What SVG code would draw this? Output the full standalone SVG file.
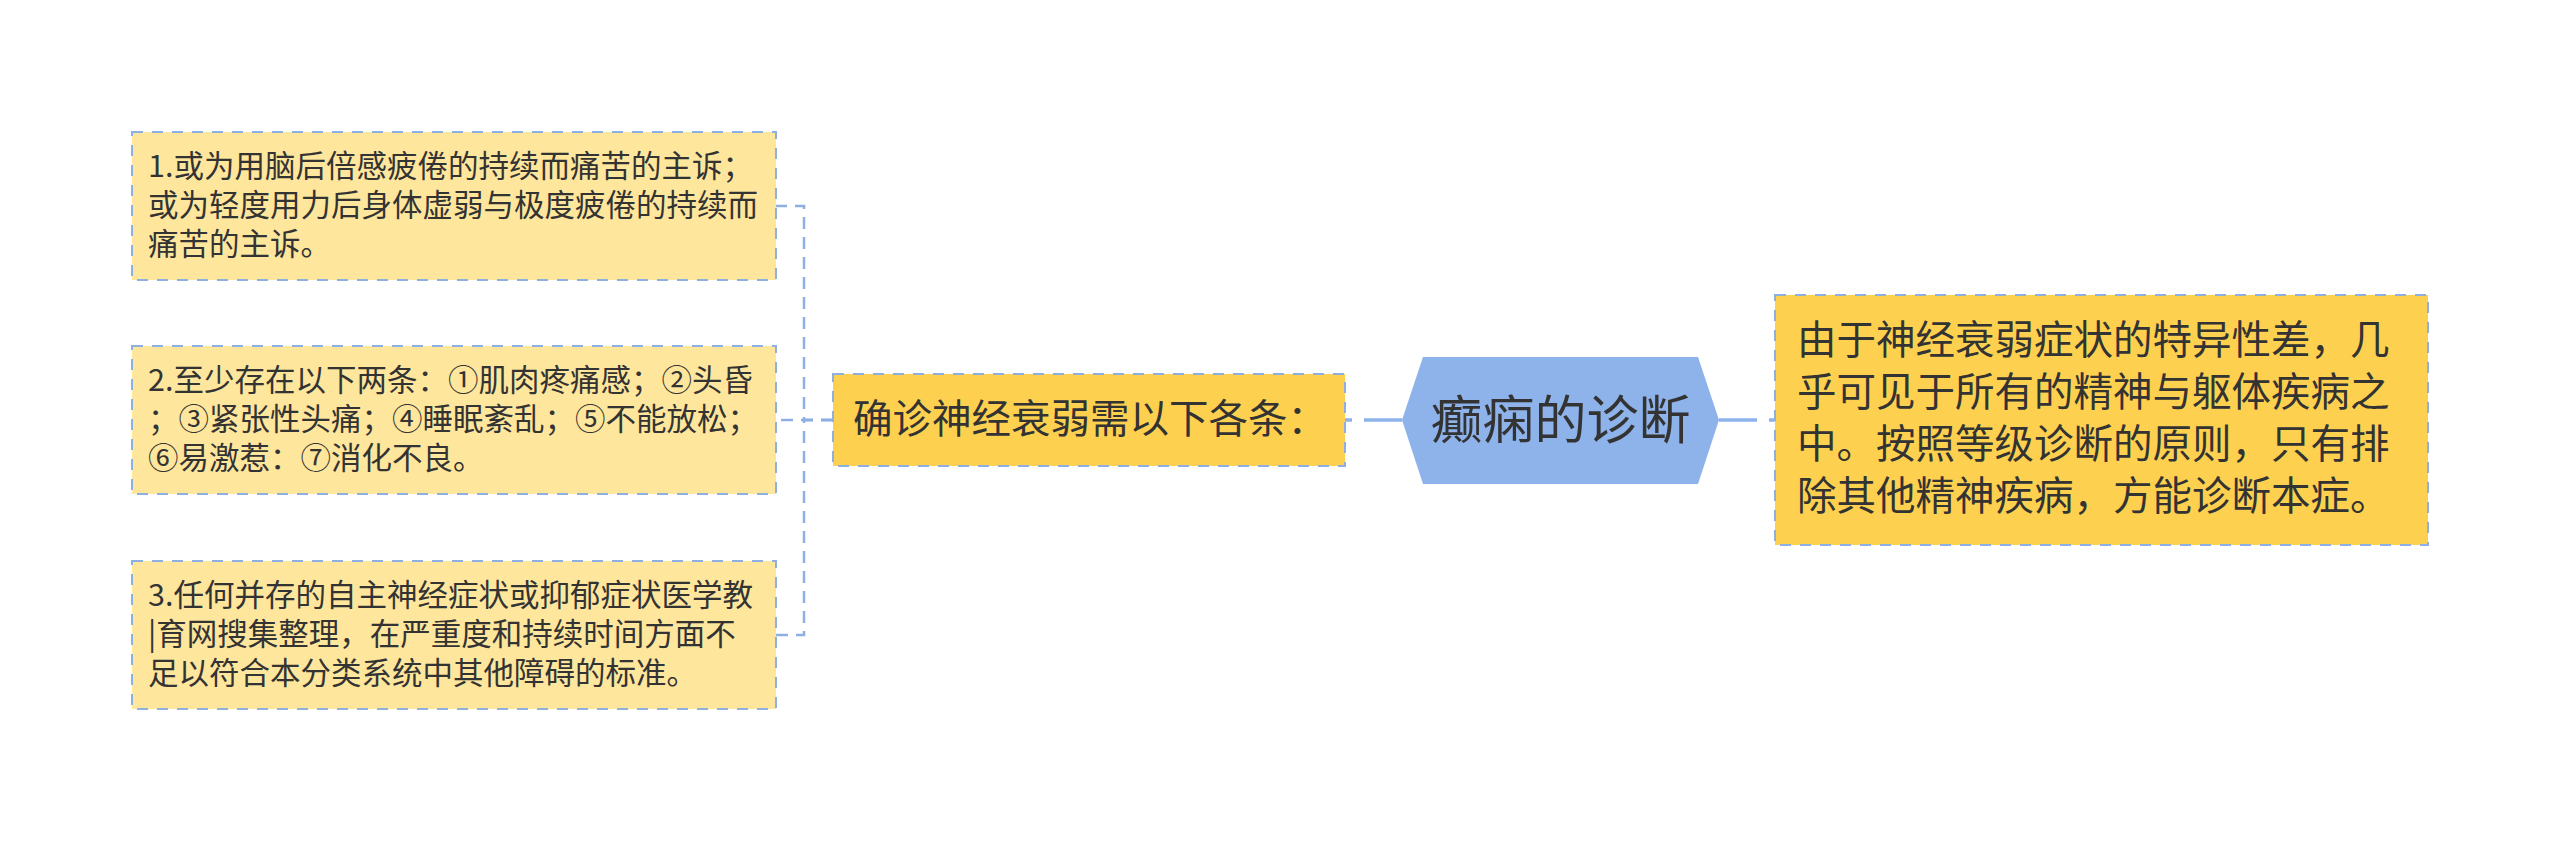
<svg xmlns="http://www.w3.org/2000/svg" width="2560" height="841" viewBox="0 0 2560 841">
<style>
text{font-family:"Microsoft YaHei","Noto Sans CJK SC","Noto Sans",sans-serif;fill:#333333;}
.leaf{fill:#fee69d;stroke:#8eafe2;stroke-width:2;stroke-dasharray:11 9;}
.gold{fill:#fdd14f;stroke:#8eafe2;stroke-width:2;stroke-dasharray:11 9;}
.hex{fill:#8eb3ea;}
.t30{font-size:30.5px;}
.t39{font-size:39.5px;}
.t52{font-size:52px;}
.dash{fill:none;stroke:#8eafe2;stroke-width:2.5;stroke-dasharray:12 8;}
.main{fill:none;stroke:#8eb3ea;stroke-width:3.5;stroke-dasharray:38 12;}
</style>
<rect width="2560" height="841" fill="#ffffff"/>
<g id="connectors">
<path class="dash" d="M833,420 H804 V206 H776"/>
<path class="dash" d="M833,420 H776"/>
<path class="dash" d="M833,420 H804 V635 H776"/>
<path class="main" d="M1402,420 H1345"/>
<path class="main" d="M1719,420 H1775"/>
</g>
<g id="node-center">
<polygon class="hex" points="1402,420 1423,357 1698,357 1719,420 1698,484 1423,484"/>
<text class="t52" x="1560.5" y="439" text-anchor="middle">癫痫的诊断</text>
</g>
<g id="node-criteria">
<rect class="gold" x="833" y="374" width="512" height="92"/>
<text class="t39" x="853" y="433">确诊神经衰弱需以下各条：</text>
</g>
<g id="node-right">
<rect class="gold" x="1775" y="295" width="653" height="250"/>
<text class="t39" x="1797" y="354">由于神经衰弱症状的特异性差，几</text>
<text class="t39" x="1797" y="406">乎可见于所有的精神与躯体疾病之</text>
<text class="t39" x="1797" y="458">中。按照等级诊断的原则，只有排</text>
<text class="t39" x="1797" y="510">除其他精神疾病，方能诊断本症。</text>
</g>
<g id="node-item1">
<rect class="leaf" x="132" y="132" width="644" height="148"/>
<text class="t30" x="148" y="177">1.或为用脑后倍感疲倦的持续而痛苦的主诉；</text>
<text class="t30" x="148" y="216">或为轻度用力后身体虚弱与极度疲倦的持续而</text>
<text class="t30" x="148" y="255">痛苦的主诉。</text>
</g>
<g id="node-item2">
<rect class="leaf" x="132" y="346" width="644" height="148"/>
<text class="t30" x="148" y="391">2.至少存在以下两条：①肌肉疼痛感；②头昏</text>
<text class="t30" x="148" y="430">；③紧张性头痛；④睡眠紊乱；⑤不能放松；</text>
<text class="t30" x="148" y="469">⑥易激惹：⑦消化不良。</text>
</g>
<g id="node-item3">
<rect class="leaf" x="132" y="561" width="644" height="148"/>
<text class="t30" x="148" y="606">3.任何并存的自主神经症状或抑郁症状医学教</text>
<text class="t30" x="148" y="645">|育网搜集整理，在严重度和持续时间方面不</text>
<text class="t30" x="148" y="684">足以符合本分类系统中其他障碍的标准。</text>
</g>
</svg>
